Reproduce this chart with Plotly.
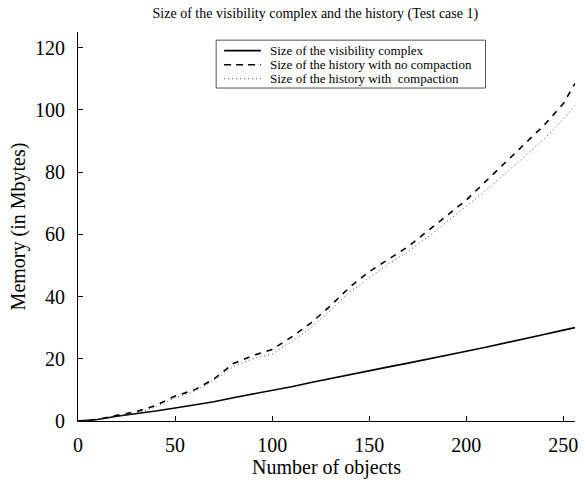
import plotly.graph_objects as go

n_objects = [0, 10, 20, 30, 40, 50, 60, 70, 80, 90, 100, 110, 120, 130, 140, 150,
             160, 170, 180, 190, 200, 210, 220, 230, 240, 250, 256]
vis_complex = [0, 0.5, 1.5, 2.3, 3.2, 4.2, 5.2, 6.2, 7.5, 8.6, 9.7, 11, 12.4, 13.7, 15,
               16.2, 17.4, 18.6, 19.8, 21.1, 22.4, 23.7, 25, 26.4, 27.8, 29.2, 30]
hist_no_comp = [0, 0.5, 1.8, 3, 5, 8, 10, 13.5, 18.5, 21, 23, 27, 31.5, 37, 43, 48,
                52, 56, 61, 66, 71, 77, 83, 89, 95, 102, 108.5]
hist_comp = [0, 0.5, 1.5, 2.5, 4.5, 7.5, 9.5, 13, 17.5, 20, 21.5, 25.5, 30, 35.5, 41.5,
             46, 50.5, 54.5, 59, 64, 69, 74, 79.5, 85, 90.5, 97, 101.5]

names = ["Size of the visibility complex",
         "Size of the history with no compaction",
         "Size of the history with  compaction"]
styles = [dict(color="black", width=1.6, dash="solid"),
          dict(color="black", width=1.6, dash="6px,6px"),
          dict(color="#444", width=1, dash="1px,3px")]
series = [vis_complex, hist_no_comp, hist_comp]

FONT = "Liberation Serif"

fig = go.Figure()
for nm, ys, st in zip(names, series, styles):
    fig.add_trace(go.Scatter(x=n_objects, y=ys, mode="lines", name=nm,
                             line=st, showlegend=False))

# Legend box drawn in paper coordinates (compact rows like the original)
fig.add_shape(type="rect", xref="paper", yref="paper", x0=0.278, x1=0.82,
              y0=0.856, y1=0.979, line=dict(color="#555", width=1),
              fillcolor="white", layer="above")
row_y = [0.952, 0.916, 0.880]
for nm, st, yy in zip(names, styles, row_y):
    sample = dict(st)
    if sample["dash"] == "6px,6px":
        sample["dash"] = "7px,5px"
    fig.add_shape(type="line", xref="paper", yref="paper", x0=0.294, x1=0.368,
                  y0=yy, y1=yy, line=sample, layer="above")
    fig.add_annotation(text=nm, xref="paper", yref="paper", x=0.382, y=yy,
                       xanchor="left", yanchor="middle", showarrow=False,
                       font=dict(family=FONT, size=13, color="black"))

fig.update_layout(
    width=584, height=485,
    margin=dict(l=78, r=6, t=32, b=64),
    paper_bgcolor="white", plot_bgcolor="white",
    font=dict(family=FONT, color="black"),
    title=dict(text="Size of the visibility complex and the history (Test case 1)",
               x=0.54, xanchor="center", y=0.972, yanchor="middle",
               font=dict(family=FONT, size=14, color="black")),
    xaxis=dict(range=[0, 256], tickvals=[0, 50, 100, 150, 200, 250],
               showgrid=False, zeroline=False, showline=True, linecolor="black",
               linewidth=1, ticks="inside", ticklen=5, tickcolor="black",
               tickfont=dict(family=FONT, size=20),
               ticklabelstandoff=6,
               title=dict(text="Number of objects", font=dict(family=FONT, size=20),
                          standoff=4)),
    yaxis=dict(range=[0, 125], tickvals=[0, 20, 40, 60, 80, 100, 120],
               showgrid=False, zeroline=False, showline=True, linecolor="black",
               linewidth=1, ticks="inside", ticklen=5, tickcolor="black",
               tickfont=dict(family=FONT, size=20),
               ticklabelstandoff=8,
               title=dict(text="Memory (in Mbytes)", font=dict(family=FONT, size=20),
                          standoff=4)),
    showlegend=False,
)

fig.write_html("out.html")
